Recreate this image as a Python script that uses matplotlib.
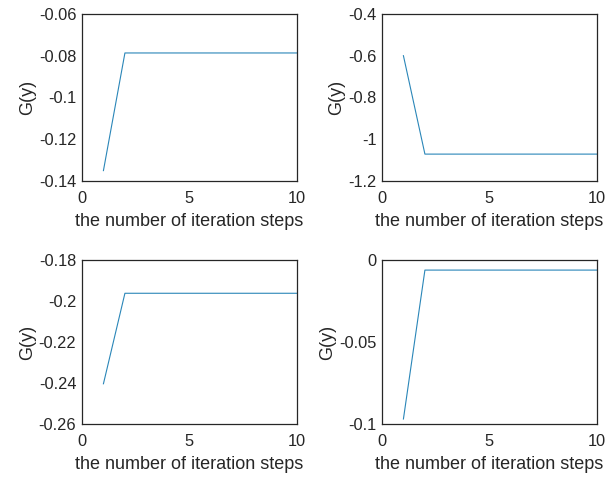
import matplotlib
matplotlib.use("Agg")
import matplotlib.pyplot as plt

plt.rcParams['font.family'] = ['Liberation Sans', 'DejaVu Sans']

# Données
steps = [1, 2, 3, 4, 5, 6, 7, 8, 9, 10]
g_tl = [-0.135] + [-0.0787] * 9
g_tr = [-0.60] + [-1.071] * 9
g_bl = [-0.2404] + [-0.1962] * 9
g_br = [-0.097] + [-0.0061] * 9

series = [g_tl, g_tr, g_bl, g_br]
ylims = [(-0.14, -0.06), (-1.2, -0.4), (-0.26, -0.18), (-0.1, 0.0)]
yticks = [[-0.14, -0.12, -0.1, -0.08, -0.06],
          [-1.2, -1.0, -0.8, -0.6, -0.4],
          [-0.26, -0.24, -0.22, -0.2, -0.18],
          [-0.1, -0.05, 0.0]]
ylabels = [["-0.14", "-0.12", "-0.1", "-0.08", "-0.06"],
           ["-1.2", "-1", "-0.8", "-0.6", "-0.4"],
           ["-0.26", "-0.24", "-0.22", "-0.2", "-0.18"],
           ["-0.1", "-0.05", "0"]]

# positions des axes (fraction de la figure)
positions = [[0.133, 0.622, 0.349, 0.349],
             [0.620, 0.622, 0.349, 0.349],
             [0.133, 0.115, 0.349, 0.342],
             [0.620, 0.115, 0.349, 0.342]]

fig = plt.figure(figsize=(6.16, 4.79), dpi=100)
for i in range(4):
    ax = fig.add_axes(positions[i])
    ax.plot(steps, series[i], color='#2a86b8', linewidth=0.8)
    ax.set_xlim(0, 10)
    ax.set_ylim(*ylims[i])
    ax.set_xticks([0, 5, 10])
    ax.set_yticks(yticks[i])
    ax.set_yticklabels(ylabels[i])
    ax.tick_params(length=0, labelsize=11.8, labelcolor='#262626')
    ax.tick_params(axis='x', pad=7.5)
    ax.tick_params(axis='y', pad=4)
    for s in ax.spines.values():
        s.set_color('#262626')
        s.set_linewidth(0.9)
    ax.set_xlabel("the number of iteration steps", fontsize=13, color='#262626', labelpad=4.5)
    ax.set_ylabel("G(y)", fontsize=13, color='#262626', labelpad=2)

fig.savefig("out.png", dpi=100)
